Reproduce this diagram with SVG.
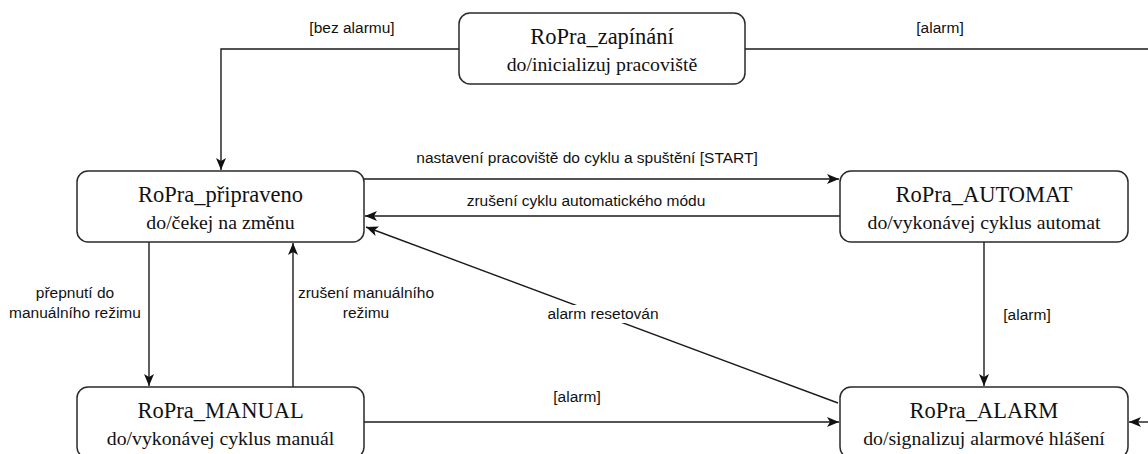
<svg xmlns="http://www.w3.org/2000/svg" width="1148" height="454" viewBox="0 0 1148 454">
  <defs>
    <marker id="arr" markerUnits="userSpaceOnUse" markerWidth="14" markerHeight="12" refX="13" refY="6" orient="auto">
      <path d="M1,1 L13,6 L1,11 L4,6 z" fill="#111"/>
    </marker>
  </defs>
  <style>
    .node rect { fill: #fff; stroke: #2a2a2a; stroke-width: 1.5; }
    .title { font-family: "Liberation Serif", "Times New Roman", serif; font-size: 22.5px; fill: #111; text-anchor: middle; }
    .sub { font-family: "Liberation Serif", "Times New Roman", serif; font-size: 19.8px; fill: #111; text-anchor: middle; }
    .edge { fill: none; stroke: #1a1a1a; stroke-width: 1.4; }
    .arrow { marker-end: url(#arr); }
    .lbl { font-family: "Liberation Sans", Arial, sans-serif; font-size: 15.5px; fill: #111; text-anchor: middle; }
  </style>
  <rect width="1148" height="454" fill="#fff"/>

  <g id="connectors">
    <path class="edge arrow" d="M459,49 H221 V170"/>
    <path class="edge" d="M745,49 H1148"/>
    <path class="edge arrow" d="M364,179 H839"/>
    <path class="edge arrow" d="M840,216 H365"/>
    <path class="edge arrow" d="M149,242 V386"/>
    <path class="edge arrow" d="M293,387 V243"/>
    <path class="edge arrow" d="M984,242 V386"/>
    <path class="edge arrow" d="M364,422 H839"/>
    <path class="edge arrow" d="M1148,422 H1129"/>
    <path class="edge arrow" d="M838,403 L366,227"/>
  </g>

  <g id="labels">
    <text class="lbl" x="352" y="33">[bez alarmu]</text>
    <text class="lbl" x="940" y="33">[alarm]</text>
    <text class="lbl" x="587" y="163">nastavení pracoviště do cyklu a spuštění [START]</text>
    <text class="lbl" x="586" y="206">zrušení cyklu automatického módu</text>
    <text class="lbl" x="75" y="298">přepnutí do</text>
    <text class="lbl" x="75" y="318">manuálního režimu</text>
    <text class="lbl" x="366" y="298">zrušení manuálního</text>
    <text class="lbl" x="366" y="318">režimu</text>
    <rect x="544" y="305" width="118" height="18" fill="#fff"/>
    <text class="lbl" x="603" y="319">alarm resetován</text>
    <text class="lbl" x="577" y="402">[alarm]</text>
    <text class="lbl" x="1027" y="320">[alarm]</text>
  </g>

  <g id="node-zapinani" class="node">
    <rect x="459" y="13" width="286" height="71" rx="11"/>
    <text class="title" x="602" y="44">RoPra_zapínání</text>
    <text class="sub" x="602" y="71">do/inicializuj pracoviště</text>
  </g>
  <g id="node-pripraveno" class="node">
    <rect x="77" y="171" width="287" height="71" rx="11"/>
    <text class="title" x="220.5" y="202">RoPra_připraveno</text>
    <text class="sub" x="220.5" y="229">do/čekej na změnu</text>
  </g>
  <g id="node-automat" class="node">
    <rect x="840" y="171" width="288" height="71" rx="11"/>
    <text class="title" x="984" y="202">RoPra_AUTOMAT</text>
    <text class="sub" x="984" y="229">do/vykonávej cyklus automat</text>
  </g>
  <g id="node-manual" class="node">
    <rect x="77" y="387" width="287" height="71" rx="11"/>
    <text class="title" x="220.5" y="418">RoPra_MANUAL</text>
    <text class="sub" x="220.5" y="445">do/vykonávej cyklus manuál</text>
  </g>
  <g id="node-alarm" class="node">
    <rect x="840" y="387" width="288" height="71" rx="11"/>
    <text class="title" x="984" y="418">RoPra_ALARM</text>
    <text class="sub" x="984" y="445">do/signalizuj alarmové hlášení</text>
  </g>
</svg>
